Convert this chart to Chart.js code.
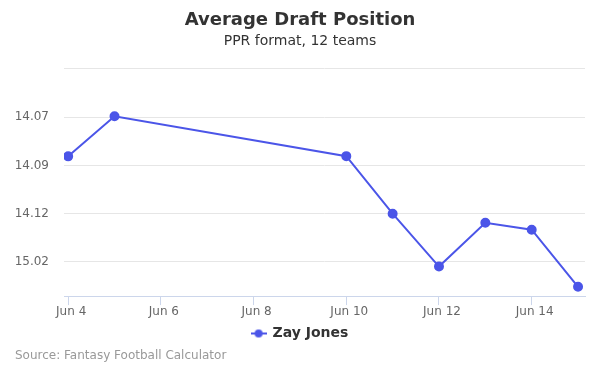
<!DOCTYPE html>
<html>
<head>
<meta charset="utf-8">
<script src="https://cdn.jsdelivr.net/npm/chart.js@4"></script>
<style>
  html, body { margin: 0; padding: 0; background: #fff; }
  #wrap { position: relative; width: 600px; height: 375px; }
  #credit { position: absolute; left: 15px; top: 348px; font: 12px "DejaVu Sans", sans-serif; color: #999; }
</style>
</head>
<body>
<div id="wrap">
  <canvas id="adp" width="600" height="375"></canvas>
  <div id="credit">Source: Fantasy Football Calculator</div>
</div>
<script>
// ADP as overall pick number, days of June
const days = [4, 5, 10, 11, 12, 13, 14, 15];
const adp = [164.53, 162.45, 164.52, 167.5, 170.24, 167.97, 168.33, 171.29];
const xTickDays = [4, 6, 8, 10, 12, 14];
const yTickValues = [160, 162.5, 165, 167.5, 170];
const yTickLabels = ['', '14.07', '14.09', '14.12', '15.02'];
const playerName = 'Zay Jones';

const lineColor = '#4b55e8';
const font = '"DejaVu Sans", sans-serif';

// legend marker: short line with a dot
const marker = document.createElement('canvas');
marker.width = 16; marker.height = 10;
const mctx = marker.getContext('2d');
mctx.strokeStyle = lineColor;
mctx.lineWidth = 2;
mctx.beginPath(); mctx.moveTo(0, 5); mctx.lineTo(16, 5); mctx.stroke();
mctx.fillStyle = lineColor;
mctx.beginPath(); mctx.arc(8, 5, 4, 0, Math.PI * 2); mctx.fill();

const ctx = document.getElementById('adp').getContext('2d');
const adpChart = new Chart(ctx, {
    type: 'line',
    data: {
        datasets: [{
            label: playerName,
            data: days.map((d, i) => ({ x: d, y: adp[i] })),
            borderColor: lineColor,
            backgroundColor: lineColor,
            borderWidth: 2,
            pointRadius: 4,
            pointHoverRadius: 5,
            tension: 0
        }]
    },
    options: {
        responsive: false,
        animation: false,
        layout: { padding: { left: 0, right: 0, top: 6, bottom: 24.5 } },
        scales: {
            x: {
                type: 'linear',
                min: 3.91,
                max: 15.15,
                afterBuildTicks: s => { s.ticks = xTickDays.map(v => ({ value: v })); },
                ticks: {
                    color: '#666',
                    font: { family: font, size: 12 },
                    padding: 0,
                    labelOffset: 3,
                    maxRotation: 0,
                    callback: v => 'Jun ' + v
                },
                grid: { drawOnChartArea: false, color: '#ccd6eb', tickLength: 9 },
                border: { color: '#ccd6eb' }
            },
            y: {
                reverse: true,
                min: 160,
                max: 171.77,
                afterBuildTicks: s => { s.ticks = yTickValues.map(v => ({ value: v })); },
                afterFit: s => { s.width = 64; },
                ticks: {
                    color: '#666',
                    font: { family: font, size: 12 },
                    padding: 15,
                    callback: (v, i) => yTickLabels[i]
                },
                grid: { color: '#e6e6e6', tickLength: 0 },
                border: { display: false }
            },
            // empty right margin so the titles stay centred on the page
            gap: {
                position: 'right',
                afterFit: s => { s.width = 15; },
                ticks: { display: false },
                grid: { display: false },
                border: { display: false }
            }
        },
        plugins: {
            title: {
                display: true,
                text: 'Average Draft Position',
                color: '#333',
                font: { family: font, size: 18, weight: 'bold' },
                padding: { top: 4, bottom: 0 }
            },
            subtitle: {
                display: true,
                text: 'PPR format, 12 teams',
                color: '#333',
                font: { family: font, size: 14 },
                padding: { top: 1, bottom: 19.5 }
            },
            legend: {
                position: 'bottom',
                labels: {
                    color: '#333',
                    font: { family: font, size: 14, weight: 'bold' },
                    usePointStyle: true,
                    pointStyle: marker,
                    padding: 7
                }
            },
            tooltip: { enabled: false }
        }
    }
});
</script>
</body>
</html>
